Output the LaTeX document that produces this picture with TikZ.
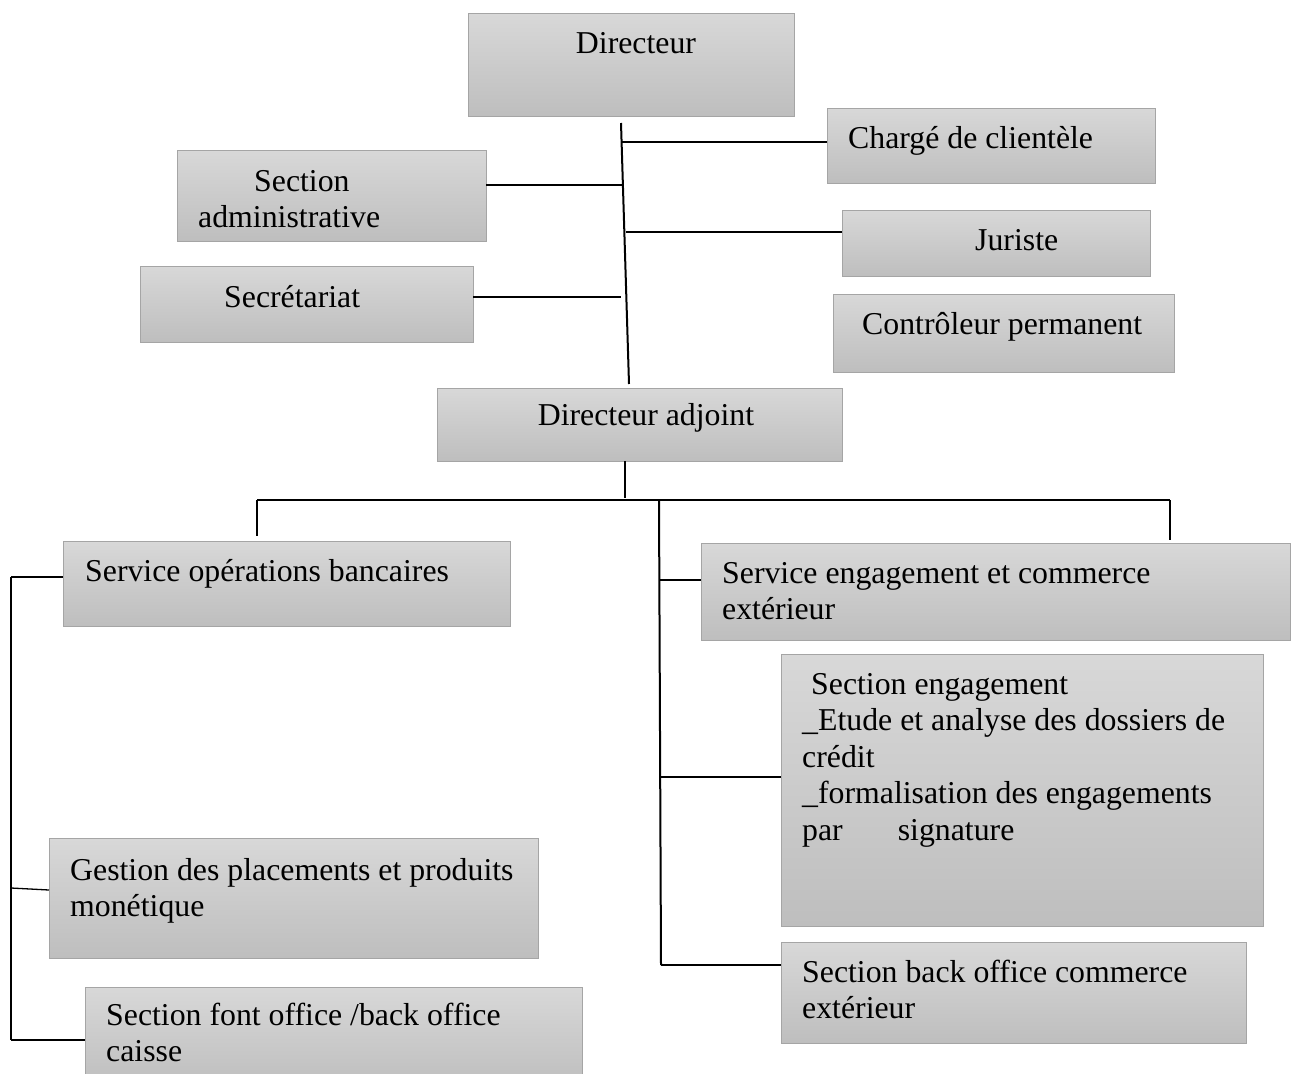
\documentclass[tikz,border=0pt]{standalone}
\usepackage{fontspec}
\setmainfont{Liberation Serif}
\begin{document}
\begin{tikzpicture}[x=1pt,y=-1pt,
  box/.style={draw={rgb,255:red,165;green,165;blue,165}, line width=1pt,
    top color={rgb,255:red,216;green,216;blue,216},
    bottom color={rgb,255:red,190;green,190;blue,190},
    rectangle, inner sep=0pt, outer sep=0pt, anchor=north west},
  txt/.style={font=\fontsize{31.8}{36.6}\selectfont, inner sep=0pt, align=left},
  link/.style={line width=2pt, black},
  thinlink/.style={line width=1.3pt, black}]
\useasboundingbox (0,0) rectangle (1295,1073);
\clip (0,0) rectangle (1295,1073);

% ---- boxes ----
\node[box, minimum width=326, minimum height=102] (dir)     at (468,14)  {};
\node[box, minimum width=328, minimum height=75]  (charge)  at (827,108) {};
\node[box, minimum width=309, minimum height=91]  (admin)   at (177,150) {};
\node[box, minimum width=308, minimum height=66]  (juriste) at (842,210) {};
\node[box, minimum width=333, minimum height=76]  (secr)    at (140,266) {};
\node[box, minimum width=341, minimum height=78]  (ctrl)    at (833,294) {};
\node[box, minimum width=405, minimum height=73]  (adj)     at (437,388) {};
\node[box, minimum width=447, minimum height=85]  (sob)     at (63,541)  {};
\node[box, minimum width=589, minimum height=97]  (sec)     at (701,543) {};
\node[box, minimum width=482, minimum height=272] (seng)    at (781,654) {};
\node[box, minimum width=489, minimum height=120] (gest)    at (49,838)  {};
\node[box, minimum width=465, minimum height=101] (sbo)     at (781,942) {};
\node[box, minimum width=497, minimum height=100] (caisse)  at (85,987)  {};

% ---- texts (multi-line nodes are placed by the baseline of their last line) ----
\node[txt, anchor=base]      (tdir)     at (636,53)  {Directeur};
\node[txt, anchor=base west] (tcharge)  at (848,148) {Chargé de clientèle};
\node[txt, anchor=base west] (tadmin)   at (198,227.6) {\hspace*{56pt}Section\\administrative};
\node[txt, anchor=base west] (tjur)     at (975,250) {Juriste};
\node[txt, anchor=base west] (tsecr)    at (224,307) {Secrétariat};
\node[txt, anchor=base west] (tctrl)    at (862,334) {Contrôleur permanent};
\node[txt, anchor=base]      (tadj)     at (646,425) {Directeur adjoint};
\node[txt, anchor=base west] (tsob)     at (85,581)  {Service opérations bancaires};
\node[txt, anchor=base west] (tsec)     at (722,619.6) {Service engagement et commerce\\extérieur};
\node[txt, anchor=base west] (tseng)    at (802,840.4) {\hspace*{9pt}Section engagement\\\_Etude et analyse des dossiers de\\crédit\\\_formalisation des engagements\\par\hspace*{55pt}signature};
\node[txt, anchor=base west] (tgest)    at (70,916.6)  {Gestion des placements et produits\\monétique};
\node[txt, anchor=base west] (tsbo)     at (802,1018.6) {Section back office commerce\\extérieur};
\node[txt, anchor=base west] (tcaisse)  at (106,1061.6) {Section font office /back office\\caisse};

% ---- upper spine ----
\coordinate (sTop) at (621,123);
\coordinate (sBot) at (629,384);
\draw[link] (sTop) -- (sBot);
\coordinate (jc) at (622,142);
\coordinate (ja) at (624,185);
\coordinate (jj) at (626,232);
\coordinate (js) at (621,297);
\draw[link] (jc) -- (charge.west |- jc);
\draw[link] (admin.east |- ja) -- (ja);
\draw[link] (jj) -- (juriste.west |- jj);
\draw[link] (secr.east |- js) -- (js);

% ---- bus under the deputy director ----
\coordinate (busM) at (625,498);
\coordinate (busL) at (257,500);
\coordinate (busR) at (1170,500);
\draw[link] (adj.south -| busM) -- (busM);
\draw[link] (busL) -- (busR);
\draw[link] (busL) -- (257,536);
\draw[link] (busR) -- (1170,540);

% ---- right branch ----
\coordinate (mTop) at (659,501);
\coordinate (mBot) at (661,965);
\draw[link] (mTop) -- (mBot);
\coordinate (m1) at (660,580);
\coordinate (m2) at (660,777);
\draw[link] (m1) -- (sec.west |- m1);
\draw[link] (m2) -- (seng.west |- m2);
\draw[link] (mBot) -- (sbo.west |- mBot);

% ---- left branch ----
\coordinate (lTop) at (11,577);
\coordinate (lBot) at (11,1040);
\coordinate (l1) at (11,888);
\draw[thinlink] (lTop) -- (lBot);
\draw[link] (lTop) -- (sob.west |- lTop);
\draw[thinlink] (l1) -- (gest.west |- 0,890);
\draw[link] (lBot) -- (caisse.west |- lBot);
\end{tikzpicture}
\end{document}
